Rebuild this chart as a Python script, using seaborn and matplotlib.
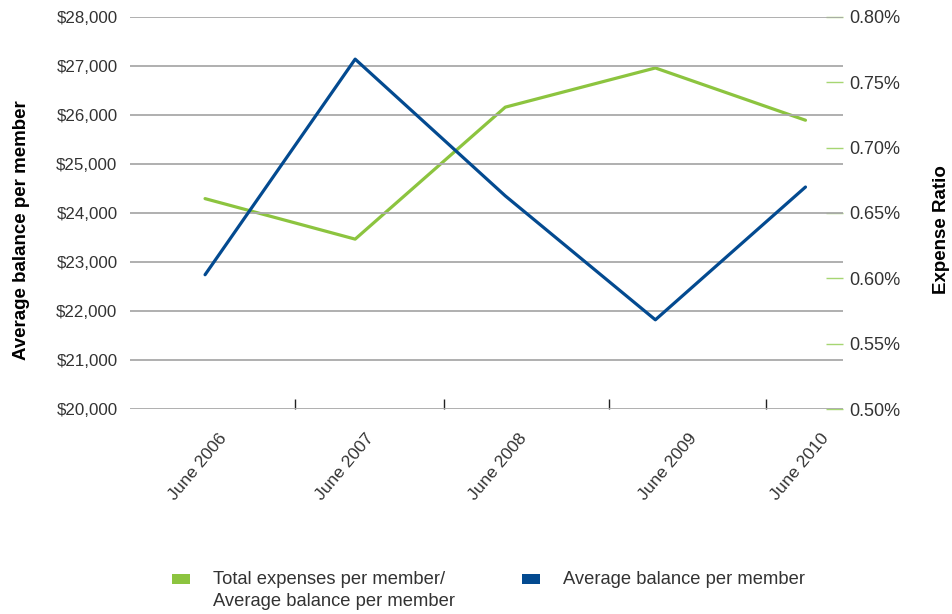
import matplotlib
matplotlib.use("Agg")
import matplotlib.pyplot as plt
import matplotlib.ticker as mticker
from matplotlib.patches import Patch, Rectangle
from matplotlib.legend_handler import HandlerPatch
from matplotlib.transforms import ScaledTranslation
import seaborn as sns
import pandas as pd

categories = ["June 2006", "June 2007", "June 2008", "June 2009", "June 2010"]
avg_balance = [22740, 27140, 24350, 21820, 24530]
expense_ratio = [0.661, 0.630, 0.731, 0.761, 0.721]

left_ticks = list(range(20000, 28001, 1000))
right_ticks = [0.50, 0.55, 0.60, 0.65, 0.70, 0.75, 0.80]
sep_ticks = [0.6, 1.59, 2.69, 3.74]
label_ticks = [0.09, 1.07, 2.09, 3.22, 4.10]

green = "#8cc43f"
blue = "#034a90"
text_col = "#333333"
grid_col = "#a9a9a9"

sns.set_theme(style="white")
plt.rcParams["font.family"] = ["Liberation Sans", "DejaVu Sans"]

df = pd.DataFrame({"period": categories, "balance": avg_balance, "ratio": expense_ratio})

fig = plt.figure(figsize=(9.52, 6.14), dpi=100)
ax = fig.add_axes([130 / 952, 1 - 409 / 614, (843 - 130) / 952, (409 - 17) / 614])
ax2 = ax.twinx()

sns.lineplot(data=df, x="period", y="balance", ax=ax, color=blue, linewidth=2.3, sort=False)
sns.lineplot(data=df, x="period", y="ratio", ax=ax2, color=green, linewidth=2.3, sort=False)

ax.set_xlim(-0.5, 4.25)
ax.set_ylim(20000, 28000)
ax.set_yticks(left_ticks)
ax.yaxis.set_major_formatter(mticker.FuncFormatter(lambda v, p: f"${v:,.0f}"))
ax.grid(axis="y", color=grid_col, linewidth=1.3)
ax.grid(axis="x", visible=False)
for s in ax.spines.values():
    s.set_visible(False)
for s in ax2.spines.values():
    s.set_visible(False)
ax.tick_params(axis="y", length=0, pad=9, labelsize=12.2, labelcolor=text_col)

ax.set_xticks(label_ticks)
ax.set_xticklabels(categories)
ax.set_xticks(sep_ticks, minor=True)
ax.tick_params(axis="x", which="major", length=0, labelsize=12.6, labelcolor=text_col, pad=0)
ax.tick_params(axis="x", which="minor", direction="in", length=7, width=1, color="#222222", bottom=True)
offset = ScaledTranslation(0, -22 / 100, fig.dpi_scale_trans)
for lab in ax.get_xticklabels():
    lab.set_rotation(50)
    lab.set_ha("right")
    lab.set_va("top")
    lab.set_rotation_mode("anchor")
    lab.set_transform(lab.get_transform() + offset)

ax.set_xlabel("")
ax.set_ylabel("Average balance per member", fontsize=13.5, fontweight="bold", color="black", labelpad=19)
ax.yaxis.label.set_y(0.457)

ax2.set_ylim(0.50, 0.80)
ax2.set_yticks(right_ticks)
ax2.yaxis.set_major_formatter(mticker.FuncFormatter(lambda v, p: f"{v:.2f}%"))
ax2.tick_params(axis="y", direction="in", length=12, width=1, color="#a6d672", pad=4.5,
                labelsize=13, labelcolor=text_col)
ax2.grid(False)
ax2.set_ylabel("Expense Ratio", fontsize=13.5, fontweight="bold", color="black", labelpad=23.5)
ax2.yaxis.label.set_y(0.457)

ax.set_zorder(ax2.get_zorder() + 1)
ax.patch.set_visible(False)


def top_patch(legend, orig_handle, xdescent, ydescent, width, height, fontsize):
    return Rectangle((-xdescent, -ydescent + 0.62 * fontsize), width, height)


h_green = Patch(facecolor=green, edgecolor="none")
h_blue = Patch(facecolor=blue, edgecolor="none")
labels = ["Total expenses per member/\nAverage balance per member", "Average balance per member\n "]
leg = fig.legend([h_green, h_blue], labels, loc="upper left", bbox_to_anchor=(172 / 952, 1 - 571 / 614),
                 ncol=2, frameon=False, fontsize=13.25, labelcolor=text_col, handlelength=0.98,
                 handleheight=0.43, handletextpad=1.25, columnspacing=3.64, borderpad=0,
                 borderaxespad=0,
                 handler_map={h_green: HandlerPatch(patch_func=top_patch),
                              h_blue: HandlerPatch(patch_func=top_patch)})
for t in leg.get_texts():
    t.set_linespacing(1.42)

fig.savefig("out.png", dpi=100)
